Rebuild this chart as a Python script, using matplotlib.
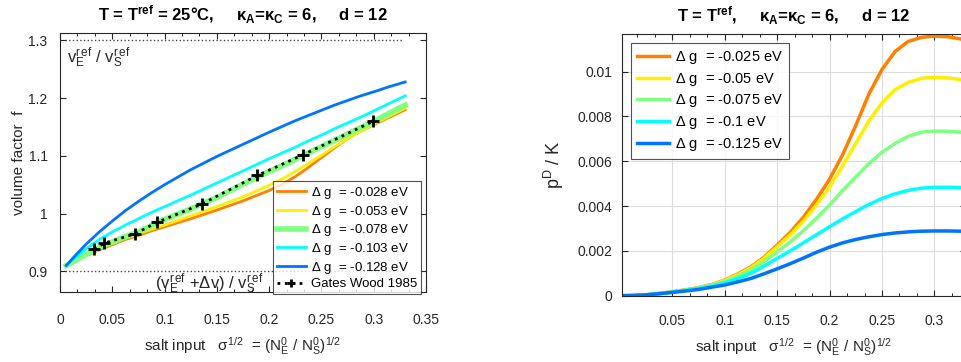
#!/usr/bin/env python3
"""Volume factor f and p^D/K versus salt input, two panels side by side."""

import matplotlib
matplotlib.use('Agg')
import matplotlib.pyplot as plt
from matplotlib.ticker import AutoMinorLocator, FormatStrFormatter

plt.rcParams['font.family'] = ['Liberation Sans', 'DejaVu Sans']
plt.rcParams['mathtext.fontset'] = 'custom'
plt.rcParams['mathtext.rm'] = 'Liberation Sans'
plt.rcParams['mathtext.it'] = 'Liberation Sans'
plt.rcParams['mathtext.bf'] = 'Liberation Sans:bold'

# ---------------------------------------------------------------------------
# Data
# ---------------------------------------------------------------------------
# Left panel: volume factor f vs sqrt(sigma)
x_left = [0.006, 0.015, 0.025, 0.0375, 0.05, 0.0625, 0.075, 0.0875, 0.1,
          0.125, 0.15, 0.175, 0.2, 0.2125, 0.225, 0.2375, 0.25, 0.2625,
          0.275, 0.2875, 0.3, 0.315, 0.33]
f_orange = [0.91, 0.918, 0.927, 0.937, 0.946, 0.955, 0.962, 0.97, 0.977,
            0.991, 1.006, 1.022, 1.04, 1.051, 1.064, 1.08, 1.097, 1.114,
            1.13, 1.143, 1.154, 1.167, 1.18]
f_yellow = [0.91, 0.918, 0.928, 0.939, 0.948, 0.957, 0.965, 0.973, 0.98,
            0.996, 1.012, 1.029, 1.049, 1.06, 1.073, 1.087, 1.101, 1.116,
            1.13, 1.143, 1.155, 1.169, 1.1825]
f_green = [0.91, 0.919, 0.929, 0.941, 0.951, 0.96, 0.968, 0.979, 0.99,
           1.008, 1.028, 1.051, 1.073, 1.083, 1.094, 1.105, 1.116, 1.127,
           1.138, 1.149, 1.16, 1.174, 1.188]
f_cyan = [0.91, 0.924, 0.939, 0.955, 0.968, 0.98, 0.991, 1.002, 1.012,
          1.032, 1.053, 1.074, 1.095, 1.105, 1.115, 1.126, 1.136, 1.147,
          1.157, 1.167, 1.178, 1.191, 1.204]
f_blue = [0.91, 0.928, 0.947, 0.968, 0.987, 1.005, 1.021, 1.036, 1.05,
          1.076, 1.099, 1.12, 1.141, 1.151, 1.161, 1.17, 1.179, 1.188,
          1.196, 1.204, 1.211, 1.22, 1.228]
left_labels = ['-0.028', '-0.053', '-0.078', '-0.103', '-0.128']

# Gates & Wood 1985 measurements
gw_x = [0.0328, 0.0424, 0.0717, 0.0924, 0.1354, 0.1887, 0.2326, 0.2995]
gw_f = [0.938, 0.9486, 0.9648, 0.9845, 1.0163, 1.066, 1.102, 1.160]

# Right panel: p^D / K vs sqrt(sigma)
x_right = [0.0017, 0.0125, 0.025, 0.0375, 0.05, 0.0625, 0.075, 0.0875, 0.1,
           0.1125, 0.125, 0.1375, 0.15, 0.1625, 0.175, 0.1875, 0.2, 0.2125,
           0.225, 0.2375, 0.25, 0.2625, 0.275, 0.2875, 0.3, 0.3125, 0.325,
           0.33]
p_orange = [0, 0.00001, 0.00004, 0.0001, 0.00018, 0.00026, 0.00036, 0.0005,
            0.0007, 0.00097, 0.00129, 0.00172, 0.00226, 0.00283, 0.0035,
            0.0043, 0.0052, 0.0063, 0.0076, 0.009, 0.0101, 0.0109, 0.01135,
            0.01153, 0.01159, 0.01156, 0.01146, 0.0114]
p_yellow = [0, 0.00001, 0.00004, 0.0001, 0.00017, 0.00025, 0.00035, 0.00049,
            0.00068, 0.00094, 0.00125, 0.00167, 0.00219, 0.00272, 0.00333,
            0.00405, 0.00485, 0.0058, 0.0068, 0.0078, 0.0086, 0.0092,
            0.00952, 0.0097, 0.00975, 0.00972, 0.00965, 0.0096]
p_green = [0, 0.00001, 0.00004, 0.0001, 0.00017, 0.00025, 0.00034, 0.00047,
           0.00063, 0.00087, 0.00115, 0.00152, 0.00196, 0.0024, 0.0029,
           0.00345, 0.00405, 0.0047, 0.0053, 0.0059, 0.0064, 0.0068,
           0.00711, 0.0073, 0.00735, 0.00734, 0.0073, 0.00728]
p_cyan = [0, 0.00001, 0.00004, 0.00009, 0.00016, 0.00024, 0.00032, 0.00044,
          0.00057, 0.00077, 0.001, 0.00132, 0.00167, 0.002, 0.00236,
          0.00272, 0.00308, 0.00343, 0.00376, 0.00407, 0.00434, 0.00455,
          0.0047, 0.0048, 0.00484, 0.00484, 0.00483, 0.00482]
p_blue = [0, 0.00001, 0.00004, 0.00009, 0.00015, 0.00021, 0.00028, 0.00038,
          0.00048, 0.00062, 0.00077, 0.00098, 0.0012, 0.00143, 0.00168,
          0.00194, 0.00217, 0.00236, 0.00251, 0.00263, 0.00273, 0.0028,
          0.00285, 0.00288, 0.00289, 0.00289, 0.00288, 0.00288]
right_labels = ['-0.025', '-0.05', '-0.075', '-0.1', '-0.125']

colors = ['#ff8000', '#ffee00', '#80ff80', '#00ffff', '#0073ff']
TXT = '#262626'

xlabel = r'salt input   $\sigma^{1/2}$  = (N$^0_\mathrm{E}$ / N$^0_\mathrm{S}$)$^{1/2}$'


def style_axes(ax, xpad, ypad):
    ax.tick_params(direction='in', top=True, right=True, labelsize=10,
                   colors=TXT, length=4)
    ax.tick_params(axis='x', pad=xpad)
    ax.tick_params(axis='y', pad=ypad)
    ax.tick_params(which='minor', direction='in', top=True, length=2.5)
    ax.xaxis.set_minor_locator(AutoMinorLocator(3))
    ax.xaxis.set_major_formatter(FormatStrFormatter('%g'))
    ax.yaxis.set_major_formatter(FormatStrFormatter('%g'))
    for s in ax.spines.values():
        s.set_color('#262626')
        s.set_linewidth(0.8)


fig = plt.figure(figsize=(9.62, 3.62), dpi=100)

# ---- Left panel ----
ax = fig.add_axes([0.0624, 0.1934, 0.3805, 0.7155])
ax.plot([0.005, 0.328], [1.3, 1.3], ':', color='#444444', lw=1)
ax.plot([0.005, 0.328], [0.9, 0.9], ':', color='#444444', lw=1)
for ys, c, lab in zip([f_orange, f_yellow, f_green, f_cyan, f_blue],
                      colors, left_labels):
    lw = 4 if c == '#80ff80' else 2
    ax.plot(x_left, ys, '-', color=c, lw=lw,
            label=r'$\Delta$ g  = %s eV' % lab)
ax.plot(gw_x, gw_f, ':+', color='k', lw=2, ms=9, mew=2,
        label='Gates Wood 1985')
ax.text(0.0065, 1.27, r'v$_\mathrm{E}^\mathrm{r\,ef}$ / v$_\mathrm{S}^\mathrm{r\,ef}$',
        fontsize=12, color=TXT, va='center')
ax.text(0.091, 0.879, r'(v$_\mathrm{E}^\mathrm{r\,ef}$ +$\Delta$v) / v$_\mathrm{S}^\mathrm{r\,ef}$',
        fontsize=12, color=TXT, va='center')
ax.set_xlim(0, 0.35)
ax.set_ylim(0.864, 1.313)
ax.set_xticks([0, 0.05, 0.1, 0.15, 0.2, 0.25, 0.3, 0.35])
ax.set_yticks([0.9, 1, 1.1, 1.2, 1.3])
style_axes(ax, xpad=15, ypad=9)
ax.set_xlabel(xlabel, fontsize=11, color=TXT, labelpad=6)
ax.set_ylabel('volume factor  f', fontsize=11, color=TXT, labelpad=2)
ax.set_title('T = T$^\\mathbf{ref}$ = 25\u00b0C,     \u03ba$_\\mathbf{A}$=\u03ba$_\\mathbf{C}$ = 6,     d = 12',
             fontsize=12, fontweight='bold', pad=9)
leg = ax.legend(loc='upper left', bbox_to_anchor=(273 / 962, 1 - 181 / 362),
                bbox_transform=fig.transFigure, fontsize=9.5, frameon=True,
                fancybox=False, edgecolor='#262626', borderpad=0.3,
                labelspacing=0.2, handlelength=2.2, handletextpad=0.4,
                borderaxespad=0, markerscale=0.7)
leg.get_frame().set_linewidth(0.8)

# ---- Right panel ----
ax2 = fig.add_axes([0.6463, 0.1831, 0.3577, 0.7229])
for ys, c, lab in zip([p_orange, p_yellow, p_green, p_cyan, p_blue],
                      colors, right_labels):
    ax2.plot(x_right, ys, '-', color=c, lw=2.5,
             label=r'$\Delta$ g  = %s eV' % lab)
ax2.set_xlim(0.0017, 0.33)
ax2.set_ylim(0, 0.01168)
ax2.set_xticks([0.05, 0.1, 0.15, 0.2, 0.25, 0.3])
ax2.set_yticks([0, 0.002, 0.004, 0.006, 0.008, 0.01])
ax2.grid(True, color='#dddddd', lw=0.8)
style_axes(ax2, xpad=13, ypad=7)
ax2.set_xlabel(xlabel, fontsize=11, color=TXT, labelpad=6)
ax2.set_ylabel(r'p$^\mathrm{D}$ / K', fontsize=13, color=TXT, labelpad=8)
ax2.set_title(r'T = T$^\mathbf{ref}$,     κ$_\mathbf{A}$=κ$_\mathbf{C}$ = 6,     d = 12',
              fontsize=12, fontweight='bold', pad=9)
leg2 = ax2.legend(loc='upper left', bbox_to_anchor=(631 / 962, 1 - 43 / 362),
                  bbox_transform=fig.transFigure, fontsize=10.5, frameon=True,
                  fancybox=False, edgecolor='#262626', borderpad=0.4,
                  labelspacing=0.33, handlelength=2.2, handletextpad=0.4,
                  borderaxespad=0)
leg2.get_frame().set_linewidth(0.8)

fig.savefig('out.png', dpi=100)
